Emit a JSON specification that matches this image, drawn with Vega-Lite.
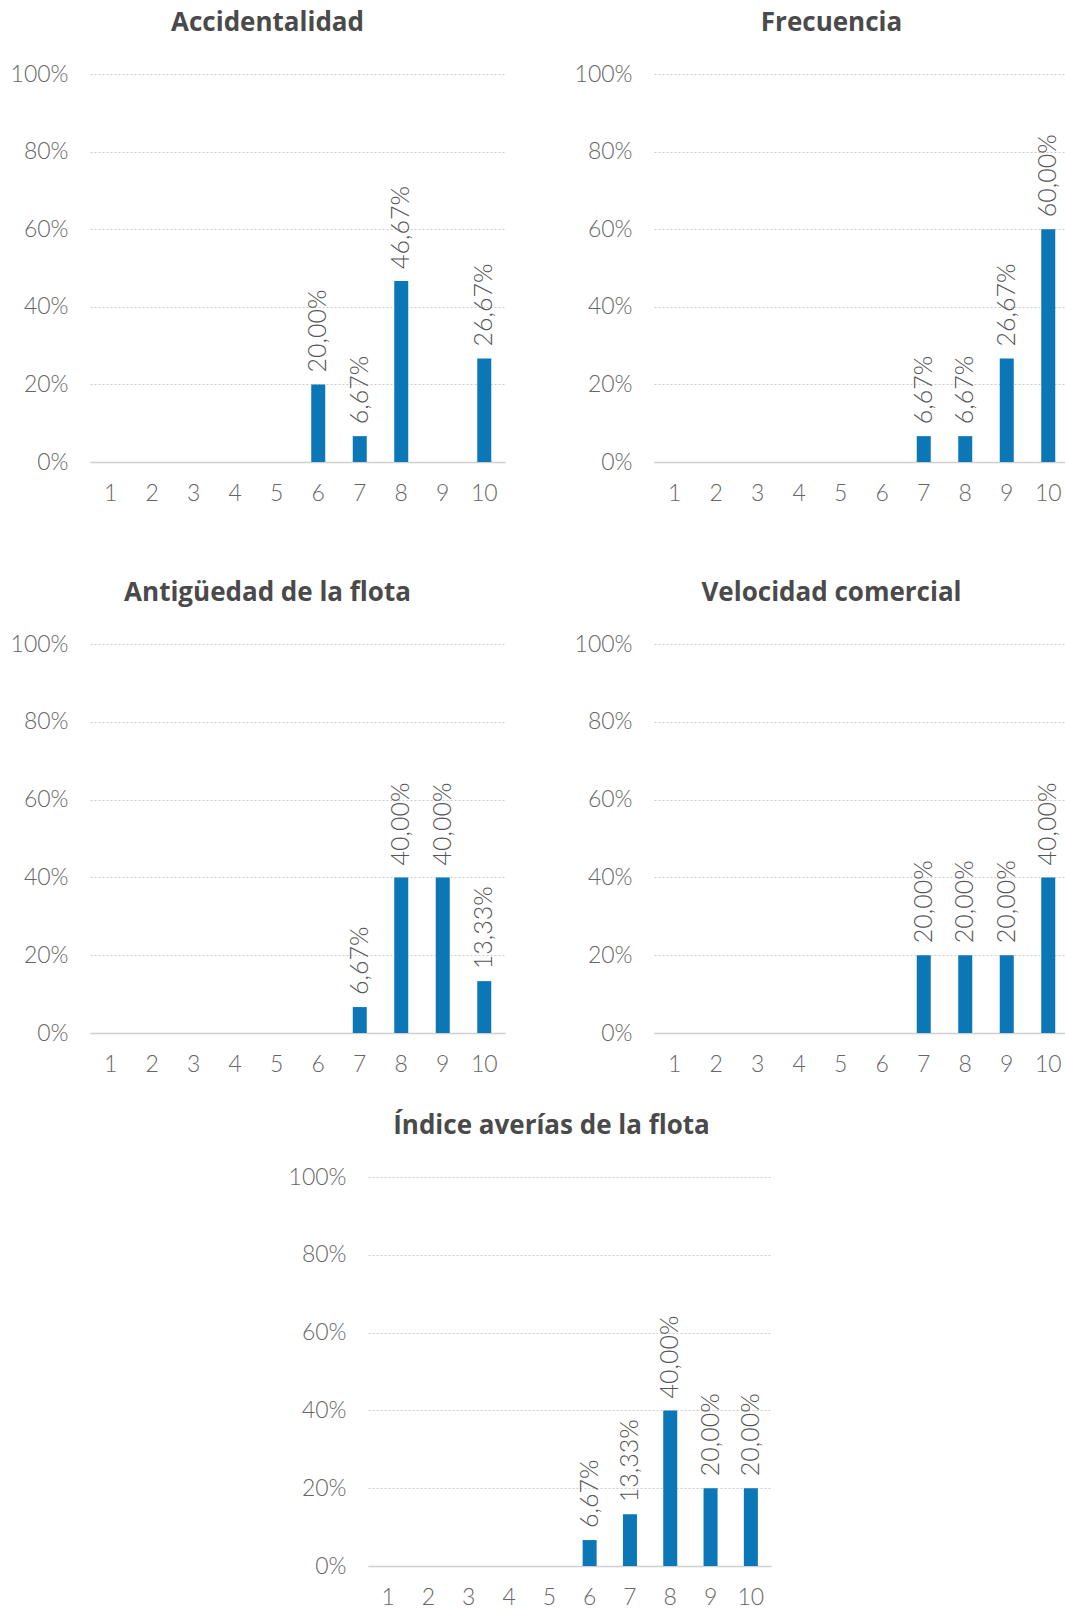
{
  "$schema": "https://vega.github.io/schema/vega-lite/v6.json",
  "background": "white",
  "padding": {"left": 10, "top": 10, "right": 0, "bottom": 0},
  "datasets": {
    "scores": [
      {"panel": "Accidentalidad", "score": 6, "share": 0.2},
      {"panel": "Accidentalidad", "score": 7, "share": 0.0666667},
      {"panel": "Accidentalidad", "score": 8, "share": 0.4666667},
      {"panel": "Accidentalidad", "score": 10, "share": 0.2666667},
      {"panel": "Frecuencia", "score": 7, "share": 0.0666667},
      {"panel": "Frecuencia", "score": 8, "share": 0.0666667},
      {"panel": "Frecuencia", "score": 9, "share": 0.2666667},
      {"panel": "Frecuencia", "score": 10, "share": 0.6},
      {"panel": "Antigüedad de la flota", "score": 7, "share": 0.0666667},
      {"panel": "Antigüedad de la flota", "score": 8, "share": 0.4},
      {"panel": "Antigüedad de la flota", "score": 9, "share": 0.4},
      {"panel": "Antigüedad de la flota", "score": 10, "share": 0.1333333},
      {"panel": "Velocidad comercial", "score": 7, "share": 0.2},
      {"panel": "Velocidad comercial", "score": 8, "share": 0.2},
      {"panel": "Velocidad comercial", "score": 9, "share": 0.2},
      {"panel": "Velocidad comercial", "score": 10, "share": 0.4},
      {"panel": "Índice averías de la flota", "score": 6, "share": 0.0666667},
      {"panel": "Índice averías de la flota", "score": 7, "share": 0.1333333},
      {"panel": "Índice averías de la flota", "score": 8, "share": 0.4},
      {"panel": "Índice averías de la flota", "score": 9, "share": 0.2},
      {"panel": "Índice averías de la flota", "score": 10, "share": 0.2}
    ]
  },
  "center": true,
  "spacing": 37,
  "vconcat": [
    {
      "spacing": 75,
      "vconcat": [
        {
          "spacing": 69,
          "hconcat": [
            {
              "title": "Accidentalidad",
              "width": 415, "height": 388,
              "data": {"name": "scores"},
              "transform": [{"filter": {"field": "panel", "equal": "Accidentalidad"}}],
              "encoding": {
                "x": {"field": "score", "type": "ordinal", "scale": {"domain": [1,2,3,4,5,6,7,8,9,10], "paddingInner": 0, "paddingOuter": 0}},
                "y": {"field": "share", "type": "quantitative", "scale": {"domain": [0, 1], "nice": false}, "axis": {"values": [0, 0.2, 0.4, 0.6, 0.8, 1], "minExtent": 80}}
              },
              "layer": [
                {"mark": {"type": "bar", "size": 14, "color": "#0b77b6"}},
                {"mark": {"type": "text", "angle": 270, "align": "left", "baseline": "middle", "dx": 12, "fontSize": 25, "font": "Lato", "fontWeight": 300, "color": "#555555"}, "encoding": {"text": {"field": "share", "type": "quantitative", "format": ".2%"}}}
              ]
            },
            {
              "title": "Frecuencia",
              "width": 415, "height": 388,
              "data": {"name": "scores"},
              "transform": [{"filter": {"field": "panel", "equal": "Frecuencia"}}],
              "encoding": {
                "x": {"field": "score", "type": "ordinal", "scale": {"domain": [1,2,3,4,5,6,7,8,9,10], "paddingInner": 0, "paddingOuter": 0}},
                "y": {"field": "share", "type": "quantitative", "scale": {"domain": [0, 1], "nice": false}, "axis": {"values": [0, 0.2, 0.4, 0.6, 0.8, 1], "minExtent": 80}}
              },
              "layer": [
                {"mark": {"type": "bar", "size": 14, "color": "#0b77b6"}},
                {"mark": {"type": "text", "angle": 270, "align": "left", "baseline": "middle", "dx": 12, "fontSize": 25, "font": "Lato", "fontWeight": 300, "color": "#555555"}, "encoding": {"text": {"field": "share", "type": "quantitative", "format": ".2%"}}}
              ]
            }
          ]
        },
        {
          "spacing": 69,
          "hconcat": [
            {
              "title": "Antigüedad de la flota",
              "width": 415, "height": 389,
              "data": {"name": "scores"},
              "transform": [{"filter": {"field": "panel", "equal": "Antigüedad de la flota"}}],
              "encoding": {
                "x": {"field": "score", "type": "ordinal", "scale": {"domain": [1,2,3,4,5,6,7,8,9,10], "paddingInner": 0, "paddingOuter": 0}},
                "y": {"field": "share", "type": "quantitative", "scale": {"domain": [0, 1], "nice": false}, "axis": {"values": [0, 0.2, 0.4, 0.6, 0.8, 1], "minExtent": 80}}
              },
              "layer": [
                {"mark": {"type": "bar", "size": 14, "color": "#0b77b6"}},
                {"mark": {"type": "text", "angle": 270, "align": "left", "baseline": "middle", "dx": 12, "fontSize": 25, "font": "Lato", "fontWeight": 300, "color": "#555555"}, "encoding": {"text": {"field": "share", "type": "quantitative", "format": ".2%"}}}
              ]
            },
            {
              "title": "Velocidad comercial",
              "width": 415, "height": 389,
              "data": {"name": "scores"},
              "transform": [{"filter": {"field": "panel", "equal": "Velocidad comercial"}}],
              "encoding": {
                "x": {"field": "score", "type": "ordinal", "scale": {"domain": [1,2,3,4,5,6,7,8,9,10], "paddingInner": 0, "paddingOuter": 0}},
                "y": {"field": "share", "type": "quantitative", "scale": {"domain": [0, 1], "nice": false}, "axis": {"values": [0, 0.2, 0.4, 0.6, 0.8, 1], "minExtent": 80}}
              },
              "layer": [
                {"mark": {"type": "bar", "size": 14, "color": "#0b77b6"}},
                {"mark": {"type": "text", "angle": 270, "align": "left", "baseline": "middle", "dx": 12, "fontSize": 25, "font": "Lato", "fontWeight": 300, "color": "#555555"}, "encoding": {"text": {"field": "share", "type": "quantitative", "format": ".2%"}}}
              ]
            }
          ]
        }
      ]
    },
    {
      "title": {"text": "Índice averías de la flota", "dx": -18},
      "width": 403, "height": 389,
      "data": {"name": "scores"},
      "transform": [{"filter": {"field": "panel", "equal": "Índice averías de la flota"}}],
      "encoding": {
        "x": {"field": "score", "type": "ordinal", "scale": {"domain": [1,2,3,4,5,6,7,8,9,10], "paddingInner": 0, "paddingOuter": 0}}
      },
      "layer": [
        {
          "mark": {"type": "bar", "size": 14, "color": "#0b77b6"},
          "encoding": {
            "y": {"field": "share", "type": "quantitative", "scale": {"domain": [0, 1], "nice": false}, "axis": {"values": [0, 0.2, 0.4, 0.6, 0.8, 1], "minExtent": 80}}
          }
        },
        {
          "mark": {"type": "text", "angle": 270, "align": "left", "baseline": "middle", "dx": 12, "fontSize": 25, "font": "Lato", "fontWeight": 300, "color": "#555555"},
          "encoding": {
            "y": {"field": "share", "type": "quantitative", "scale": {"domain": [0, 1], "nice": false}, "axis": {"orient": "right", "values": [0, 0.2, 0.4, 0.6, 0.8, 1], "labelExpr": "''", "grid": false, "domain": false, "ticks": false, "labelPadding": 0, "minExtent": 20, "maxExtent": 20}},
            "text": {"field": "share", "type": "quantitative", "format": ".2%"}
          }
        }
      ],
      "resolve": {"scale": {"y": "independent"}, "axis": {"y": "independent"}}
    }
  ],
  "config": {
    "locale": {"number": {"decimal": ",", "thousands": ".", "grouping": [3], "currency": ["", " €"]}},
    "view": {"stroke": null},
    "font": "Lato",
    "title": {"fontSize": 26, "fontWeight": 700, "color": "#4a4a4a", "offset": 27, "anchor": "middle", "dx": -30, "font": "Open Sans"},
    "axisY": {"format": "%", "title": null, "labelFontSize": 23, "labelFont": "Lato", "labelFontWeight": 300, "labelColor": "#666666", "labelPadding": 22, "ticks": false, "tickSize": 0, "domain": false, "grid": true, "gridColor": "#cccccc", "gridDash": [2, 2], "gridWidth": 1},
    "axisX": {"title": null, "labelAngle": 0, "labelFontSize": 23, "labelFont": "Lato", "labelFontWeight": 300, "labelColor": "#666666", "labelPadding": 20, "ticks": false, "tickSize": 0, "domain": true, "domainColor": "#cfcfcf", "domainWidth": 1.5, "grid": false}
  }
}
